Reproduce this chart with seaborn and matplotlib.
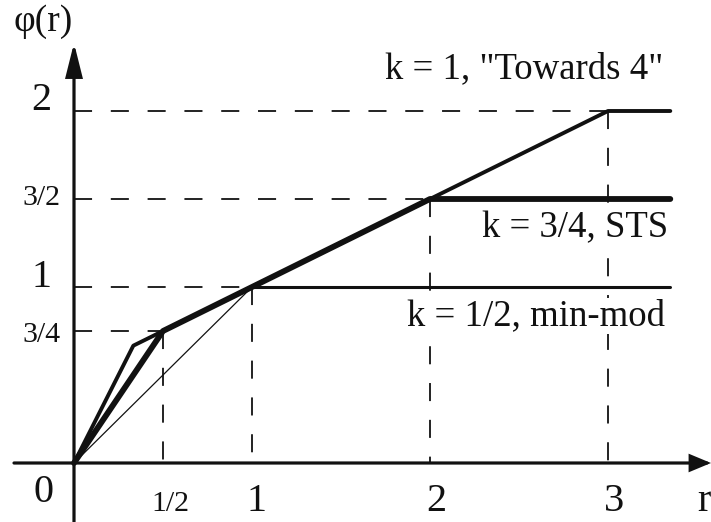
import matplotlib
matplotlib.use("Agg")
import matplotlib.pyplot as plt
import seaborn as sns
import pandas as pd
from matplotlib.patches import FancyArrowPatch

# Flux-limiter curves phi(r) for k = 1/2, 3/4 and 1
R_END = 3.35
minmod_r = [0, 1, R_END]
minmod_phi = [0, 1, 1]
sts_r = [0, 0.5, 1, 2, R_END]
sts_phi = [0, 0.75, 1, 1.5, 1.5]
towards4_r = [0, 1 / 3, 0.5, 1, 2, 3, R_END]
towards4_phi = [0, 2 / 3, 0.75, 1, 1.5, 2, 2]

# Guide points marked with dashed lines to both axes
guide_r = [0.5, 1, 2, 3]
guide_phi = [0.75, 1, 1.5, 2]

# Axis labels
xtick_vals = [0.5, 1, 2, 3]
xtick_labels = ["1/2", "1", "2", "3"]
ytick_vals = [2, 1.5, 1, 0.75]
ytick_labels = ["2", "3/2", "1", "3/4"]

curve_labels = ['k = 1, "Towards 4"', "k = 3/4, STS", "k = 1/2, min-mod"]

sns.set_style("white")
plt.rcParams["font.family"] = ["Liberation Serif", "DejaVu Serif"]
plt.rcParams["lines.scale_dashes"] = False

W, H = 711, 522
X0, Y0 = 74, 463          # origin in pixels (from top-left)
SX, SY = 178, 176         # pixels per unit

fig = plt.figure(figsize=(W / 100, H / 100), dpi=100)
ax = fig.add_axes([0, 0, 1, 1])
ax.set_xlim(-X0 / SX, (W - X0) / SX)
ax.set_ylim(-(H - Y0) / SY, Y0 / SY)
ax.axis("off")


def dx(px):
    return (px - X0) / SX


def dy(py):
    return (Y0 - py) / SY


K = "#111111"
dash = dict(color=K, lw=1.3, dashes=(13, 13.5), solid_capstyle="butt", zorder=1)

# dashed guides
for r, p in zip(guide_r, guide_phi):
    ax.plot([0, r], [p, p], **dash)
    ax.plot([r, r], [p, 0], **dash)

# curves
mm = pd.DataFrame({"r": minmod_r, "phi": minmod_phi})
sts = pd.DataFrame({"r": sts_r, "phi": sts_phi})
t4 = pd.DataFrame({"r": towards4_r, "phi": towards4_phi})

sns.lineplot(data=mm.iloc[:2], x="r", y="phi", sort=False, color=K, lw=0.9, ax=ax)
sns.lineplot(data=mm.iloc[1:], x="r", y="phi", sort=False, color=K, lw=2.2, ax=ax)
sns.lineplot(data=t4, x="r", y="phi", sort=False, color=K, lw=2.8, ax=ax)
sns.lineplot(data=sts, x="r", y="phi", sort=False, color=K, lw=4.2, ax=ax)

# axes with arrowheads
ax.add_patch(FancyArrowPatch((dx(14), 0), (dx(711), 0),
                             arrowstyle="-|>,head_length=12,head_width=5",
                             mutation_scale=1, lw=2.3, color=K,
                             shrinkA=0, shrinkB=0, joinstyle="miter"))
ax.add_patch(FancyArrowPatch((0, dy(530)), (0, dy(43)),
                             arrowstyle="-|>,head_length=20,head_width=5",
                             mutation_scale=1, lw=2.3, color=K,
                             shrinkA=0, shrinkB=0, joinstyle="miter"))

BIG, SMALL = 29, 21.5
# y labels
y_base = [110, 205, 287, 342]
for v, lab, b in zip(ytick_vals, ytick_labels, y_base):
    fs = SMALL if "/" in lab else BIG
    ax.text(dx(41), dy(b), lab, ha="center", va="baseline", fontsize=fs, color=K)
ax.text(dx(43), dy(502), "0", ha="center", va="baseline", fontsize=BIG, color=K)
ax.text(dx(13), dy(31), "φ(r)", ha="left", va="baseline", fontsize=27, color=K)

# x labels
x_centers = [170, 256, 436, 614]
for v, lab, c in zip(xtick_vals, xtick_labels, x_centers):
    fs = SMALL if "/" in lab else BIG
    ax.text(dx(c), dy(511), lab, ha="center", va="baseline", fontsize=fs, color=K)
ax.text(dx(704), dy(511), "r", ha="center", va="baseline", fontsize=BIG, color=K)

# curve annotations, masking the dashed guides behind them
for lab, (xr, b) in zip(curve_labels, [(663, 78), (668, 237), (665, 325)]):
    ax.text(dx(xr), dy(b), lab, ha="right", va="baseline", fontsize=26.5, color=K,
            zorder=5, bbox=dict(facecolor="white", edgecolor="none", pad=0.5))

fig.savefig("out.png", dpi=100)
